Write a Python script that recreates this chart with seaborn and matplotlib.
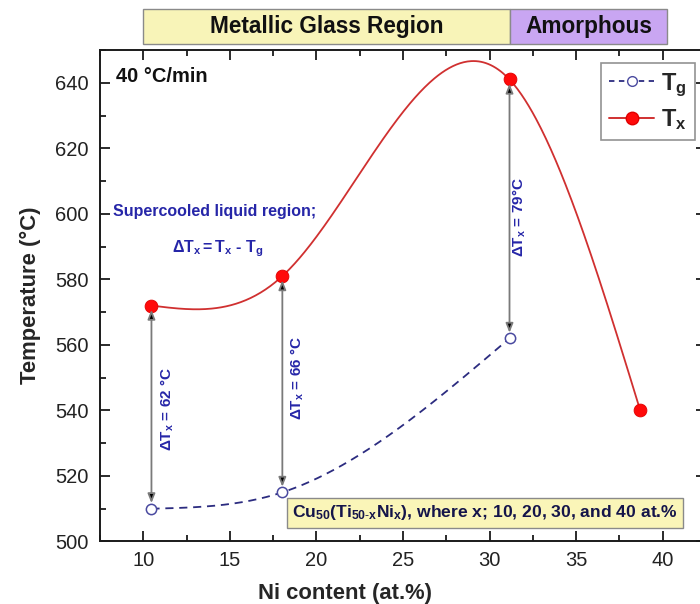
import numpy as np
import matplotlib
matplotlib.use("Agg")
import matplotlib.pyplot as plt
from matplotlib.patches import Rectangle
from matplotlib.lines import Line2D
from matplotlib.ticker import MultipleLocator
import seaborn as sns

# Measured transition temperatures vs Ni content (plotted positions)
ni_content = [10.47, 18.03, 31.15, 38.7]
t_x = [572, 581, 641, 540]
t_g = [510, 515, 562]
x_ticks = [10, 15, 20, 25, 30, 35, 40]
y_ticks = [500, 520, 540, 560, 580, 600, 620, 640]
region_names = ["Metallic Glass Region", "Amorphous"]
region_bounds = [(10.0, 31.2), (31.2, 40.25)]
region_colors = ["#f8f4b8", "#c9a6f2"]

RED_LINE = "#d03030"
RED_DOT = "#ff0a0a"
NAVY = "#2c2c80"
BLUE_TXT = "#2626a8"


def natural_spline(x, y, n=400):
    x = np.asarray(x, float)
    y = np.asarray(y, float)
    k = len(x)
    h = np.diff(x)
    A = np.zeros((k, k))
    r = np.zeros(k)
    A[0, 0] = A[-1, -1] = 1.0
    for i in range(1, k - 1):
        A[i, i - 1] = h[i - 1]
        A[i, i] = 2 * (h[i - 1] + h[i])
        A[i, i + 1] = h[i]
        r[i] = 6 * ((y[i + 1] - y[i]) / h[i] - (y[i] - y[i - 1]) / h[i - 1])
    m = np.linalg.solve(A, r)
    xs = np.linspace(x[0], x[-1], n)
    idx = np.clip(np.searchsorted(x, xs) - 1, 0, k - 2)
    x0, x1 = x[idx], x[idx + 1]
    hh = x1 - x0
    a = (x1 - xs) / hh
    b = (xs - x0) / hh
    ys = a * y[idx] + b * y[idx + 1] + ((a ** 3 - a) * m[idx] + (b ** 3 - b) * m[idx + 1]) * hh ** 2 / 6
    return xs, ys


sns.set_style("ticks")
plt.rcParams.update({
    "font.family": ["Liberation Sans", "DejaVu Sans"],
    "mathtext.fontset": "custom",
    "mathtext.rm": "Liberation Sans",
    "mathtext.it": "Liberation Sans:italic",
    "mathtext.bf": "Liberation Sans:bold",
    "mathtext.default": "bf",
    "axes.edgecolor": "#1a1a1a",
    "axes.linewidth": 1.4,
})

fig = plt.figure(figsize=(7, 6.04), dpi=100)
ax = fig.add_axes([0.1429, 0.1035, 0.8657, 0.8137])

# Smooth curves through the measured points
tg_x = ni_content[:len(t_g)]
sx, sy = natural_spline(ni_content, t_x)
gx, gy = natural_spline(tg_x, t_g)
sns.lineplot(x=sx, y=sy, ax=ax, color=RED_LINE, lw=1.3, sort=False, zorder=2)
sns.lineplot(x=gx, y=gy, ax=ax, color=NAVY, lw=1.3, sort=False, zorder=2,
             linestyle=(0, (4.5, 3.2)))
sns.scatterplot(x=ni_content, y=t_x, ax=ax, color=RED_DOT, s=85,
                edgecolor="#e00000", linewidth=0.6, zorder=4)
sns.scatterplot(x=tg_x, y=t_g, ax=ax, facecolor="white", s=55,
                edgecolor="#4a4aa0", linewidth=1.1, zorder=4)

# Double arrows for the supercooled liquid region width
label_pos = [(11.4, 540.5), (18.87, 550.0), (31.74, 599.0)]
for i, (xv, g, t) in enumerate(zip(tg_x, t_g, t_x)):
    ax.annotate("", xy=(xv, t), xytext=(xv, g),
                arrowprops=dict(arrowstyle="<|-|>,head_length=0.55,head_width=0.22",
                                fc="black", ec="#7a7a7a", lw=1.3,
                                shrinkA=4, shrinkB=3),
                zorder=5)
    dT = t - g
    unit = "°C" if i == 2 else " °C"
    lx, ly = label_pos[i]
    ax.text(lx, ly, f"ΔT$_x$ = {dT}{unit}", rotation=90, ha="center", va="center",
            color=BLUE_TXT, fontsize=11, fontweight="bold")

ax.set_xlim(7.5, 42.5)
ax.set_ylim(500, 650)
ax.set_xticks(x_ticks)
ax.set_yticks(y_ticks)
ax.xaxis.set_minor_locator(MultipleLocator(2.5))
ax.yaxis.set_minor_locator(MultipleLocator(10))
ax.tick_params(which="both", direction="in", top=True, right=True, width=1.3,
               colors="#1a1a1a", labelcolor="#222222")
ax.tick_params(which="major", length=7, labelsize=14.5)
ax.tick_params(axis="x", which="major", pad=7)
ax.tick_params(axis="y", which="major", pad=8)
ax.tick_params(which="minor", length=4)

ax.set_xlabel("Ni content (at.%)", fontsize=15.8, fontweight="bold", labelpad=4)
ax.xaxis.set_label_coords(0.404, -0.085)
ax.set_ylabel("Temperature (°C)", fontsize=15.8, fontweight="bold")
ax.yaxis.set_label_coords(-0.098, 0.5)

# Region bands above the plot
for name, (x0, x1), col in zip(region_names, region_bounds, region_colors):
    rect = Rectangle((x0, 1.0116), x1 - x0, 0.0712, transform=ax.get_xaxis_transform(),
                     facecolor=col, edgecolor="#8a8a8a", lw=1.0, clip_on=False)
    ax.add_patch(rect)
    ax.text((x0 + x1) / 2, 1.0472, name, transform=ax.get_xaxis_transform(),
            ha="center", va="center", fontsize=16.3, fontweight="bold", color="#111111")

ax.text(8.45, 642.0, "40 °C/min", ha="left", va="center", fontsize=14.5,
        fontweight="bold", color="#111111")
ax.text(8.25, 600.7, "Supercooled liquid region;", ha="left", va="center",
        fontsize=11.5, fontweight="bold", color=BLUE_TXT)
ax.text(11.65, 589.5, r"$\Delta T_x = T_x$ - T$_g$", ha="left", va="center",
        fontsize=11.5, fontweight="bold", color=BLUE_TXT)

ax.text(18.6, 508.7,
        r"Cu$_{50}$(Ti$_{50\text{-}x}$Ni$_x$), where x; 10, 20, 30, and 40 at.%",
        ha="left", va="center", fontsize=12.6, fontweight="bold", color="#14144a",
        bbox=dict(boxstyle="square,pad=0.3", fc="#faf5b8", ec="#8a8a8a", lw=1.0),
        zorder=6)

handles = [
    Line2D([], [], color=NAVY, lw=1.3, linestyle=(0, (3, 2.5)), marker="o",
           markersize=7, markerfacecolor="white", markeredgecolor="#4a4aa0"),
    Line2D([], [], color=RED_LINE, lw=1.4, marker="o", markersize=9,
           markerfacecolor=RED_DOT, markeredgecolor="#e00000"),
]
leg = ax.legend(handles, ["T$_g$", "T$_x$"], loc="upper left",
                bbox_to_anchor=(0.8267, 0.9736), frameon=True, fancybox=False,
                edgecolor="#777777", fontsize=17, handlelength=1.9,
                handletextpad=0.3, borderpad=0.35, labelspacing=0.35,
                borderaxespad=0)
leg.get_frame().set_linewidth(1.2)
for t in leg.get_texts():
    t.set_fontweight("bold")

fig.savefig("out.png", dpi=100)
